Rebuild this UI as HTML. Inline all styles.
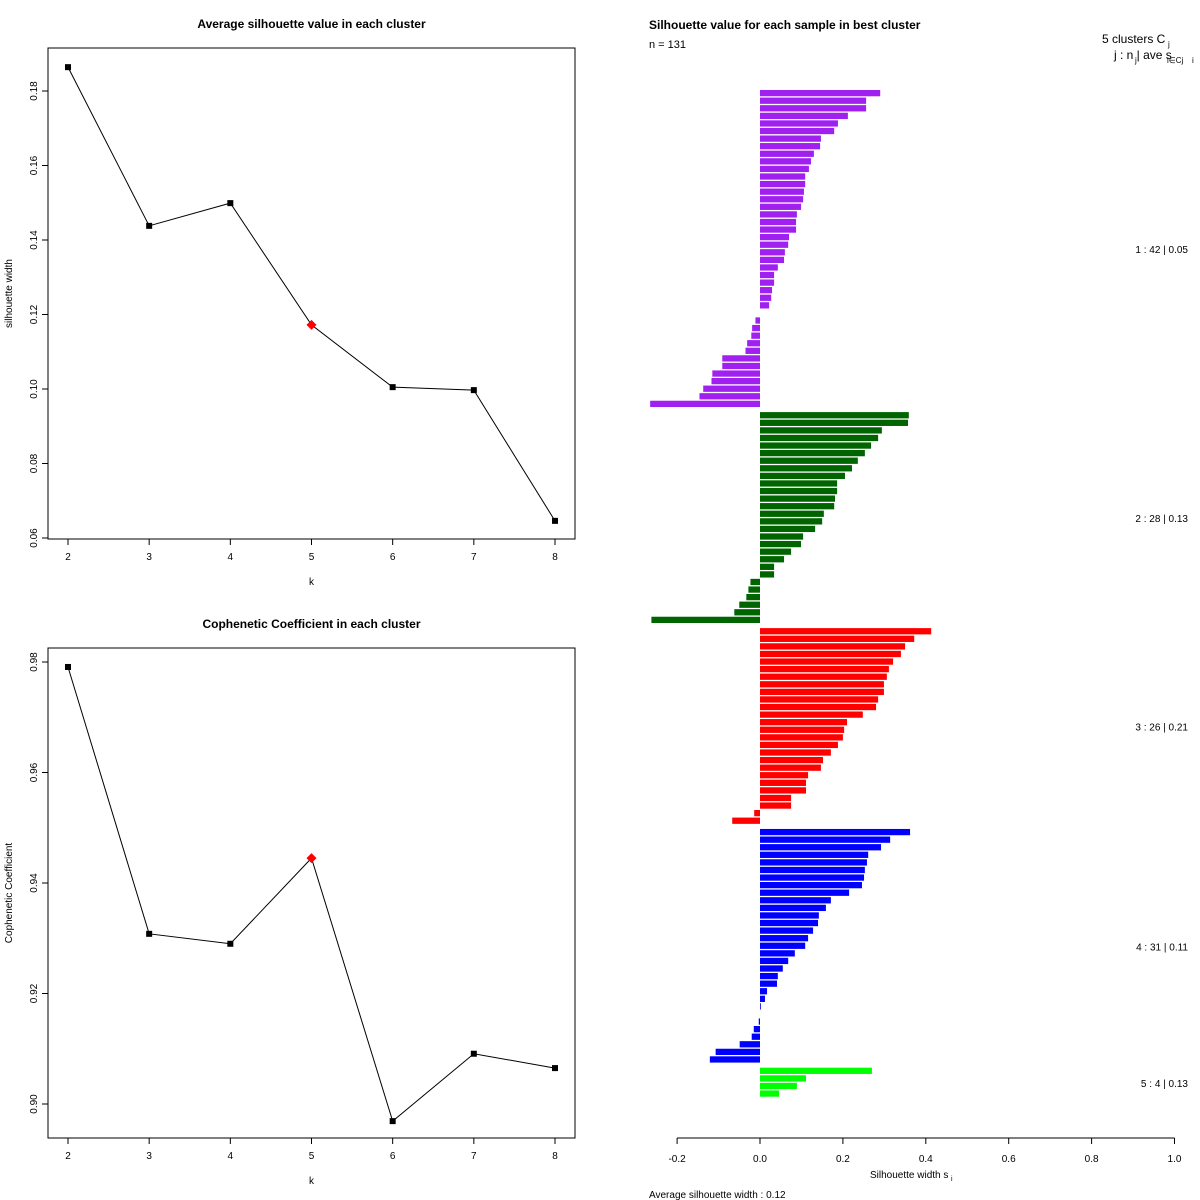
<!DOCTYPE html>
<html><head><meta charset="utf-8">
<style>
html,body{margin:0;padding:0;background:#fff;}
svg{display:block;font-family:"Liberation Sans",sans-serif;}
</style></head>
<body>
<svg id="chart" width="1200" height="1200" viewBox="0 0 1200 1200" xmlns="http://www.w3.org/2000/svg">
<rect width="1200" height="1200" fill="#fff"/>
<g id="p1"></g>
<g id="p2"></g>
<g id="p3"></g>
</svg>
<script>
const kValues = [2,3,4,5,6,7,8];
const silValues = [0.1864,0.1438,0.1499,0.1172,0.1005,0.0997,0.0646];
const silTicks = [0.06,0.08,0.10,0.12,0.14,0.16,0.18];
const copheValues = [0.9791,0.9308,0.9290,0.9445,0.8969,0.9091,0.9065];
const copheTicks = [0.90,0.92,0.94,0.96,0.98];
const bestK = 5;

const clusterNames = ["1","2","3","4","5"];
const clusterColors = ["#a020f0","#006400","#ff0000","#0000ff","#00ff00"];
const clusterAvg = ["0.05","0.13","0.21","0.11","0.13"];
const cluster1 = [.290,.256,.256,.212,.188,.179,.147,.145,.130,.123,.118,.109,.109,.106,.104,.099,.089,.087,.087,.070,.068,.060,.058,.043,.034,.034,.029,.027,.022,0,-.011,-.019,-.021,-.031,-.035,-.091,-.091,-.115,-.117,-.137,-.146,-.265];
const cluster2 = [.359,.357,.294,.285,.268,.253,.236,.222,.205,.186,.186,.181,.179,.154,.150,.133,.104,.099,.075,.058,.034,.034,-.023,-.028,-.033,-.050,-.062,-.262];
const cluster3 = [.413,.372,.350,.340,.321,.311,.306,.299,.299,.285,.280,.248,.210,.203,.200,.188,.171,.152,.147,.116,.111,.111,.075,.075,-.014,-.067];
const cluster4 = [.362,.314,.292,.261,.258,.253,.251,.246,.215,.171,.159,.142,.140,.128,.116,.109,.084,.068,.055,.043,.041,.017,.012,.002,0,-.003,-.015,-.020,-.049,-.107,-.121];
const cluster5 = [.270,.111,.089,.046];
const silXTicks = [-0.2,0.0,0.2,0.4,0.6,0.8,1.0];
const avgSilWidth = "0.12";

const NS="http://www.w3.org/2000/svg";
function mk(parent,tag,attrs,text){const e=document.createElementNS(NS,tag);for(const k in attrs)e.setAttribute(k,attrs[k]);if(text!==undefined)e.textContent=text;parent.appendChild(e);return e;}

function linePanel(g,box,vals,ticks,ymin,ymax,yfmt,title,ytitle,prefix){
  const xs=v=>68+(v-2)*(555-68)/6;
  const ys=v=>box.y1-(v-ymin)*(box.y1-box.y0)/(ymax-ymin);
  let e=mk(g,'rect',{x:box.x0,y:box.yb0,width:box.x1-box.x0,height:box.yb1-box.yb0,fill:'none',stroke:'#000','stroke-width':1});
  
  
  e=mk(g,'text',{x:(box.x0+box.x1)/2,y:box.yb0-20,'text-anchor':'middle','font-size':12,'font-weight':'bold'},title);
  
  
  kValues.forEach(k=>{
    mk(g,'line',{x1:xs(k),x2:xs(k),y1:box.yb1,y2:box.yb1+6,stroke:'#000'});
    e=mk(g,'text',{x:xs(k),y:box.yb1+21,'text-anchor':'middle','font-size':10},String(k));
    
    
  });
  e=mk(g,'text',{x:(box.x0+box.x1)/2,y:box.yb1+46,'text-anchor':'middle','font-size':10},'k');
  
  
  ticks.forEach(t=>{
    const y=ys(t);
    mk(g,'line',{x1:box.x0,x2:box.x0-6,y1:y,y2:y,stroke:'#000'});
    e=mk(g,'text',{x:0,y:0,'text-anchor':'middle','font-size':10,transform:`translate(37,${y}) rotate(-90)`},t.toFixed(yfmt));
    
    
  });
  const cy=(box.yb0+box.yb1)/2;
  e=mk(g,'text',{x:0,y:0,'text-anchor':'middle','font-size':10,transform:`translate(12,${cy}) rotate(-90)`},ytitle);
  
  
  const pts=kValues.map((k,i)=>xs(k)+','+ys(vals[i])).join(' ');
  e=mk(g,'polyline',{points:pts,fill:'none',stroke:'#000','stroke-width':1});
  
  
  kValues.forEach((k,i)=>{
    const x=xs(k),y=ys(vals[i]);
    if(k===bestK){
      e=mk(g,'polygon',{points:`${x},${y-5} ${x+5},${y} ${x},${y+5} ${x-5},${y}`,fill:'#ff0000'});
      
    } else {
      e=mk(g,'rect',{x:x-3,y:y-3,width:6,height:6,fill:'#000'});
      
    }
    
  });
}

(function(){
  linePanel(document.getElementById('p1'),{x0:48,x1:575,yb0:48,yb1:539,y0:91,y1:538},silValues,silTicks,0.06,0.18,2,'Average silhouette value in each cluster','silhouette width','silhouette');
  linePanel(document.getElementById('p2'),{x0:48,x1:575,yb0:648,yb1:1138,y0:662,y1:1104},copheValues,copheTicks,0.90,0.98,2,'Cophenetic Coefficient in each cluster','Cophenetic Coefficient','cophenetic');

  const g3=document.getElementById('p3');
  const clusters=[cluster1,cluster2,cluster3,cluster4,cluster5];
  const xs=v=>760+v*414.5;
  const total=clusters.reduce((a,c)=>a+c.length,0)+0.5*(clusters.length-1);
  const top=90,bottom=1098,unit=(bottom-top)/total;
  let pos=0,e;
  clusters.forEach((c,ci)=>{
    const startPos=pos;
    c.forEach((v,i)=>{
      const y=top+pos*unit;
      const x0=Math.min(xs(0),xs(v)),w=Math.abs(xs(v)-xs(0));
      e=mk(g3,'rect',{x:x0,y:y,width:w,height:Math.max(unit-1.3,1),fill:clusterColors[ci]});
      
      
      pos+=1;
    });
    const mid=top+(startPos+c.length/2)*unit;
    e=mk(g3,'text',{x:1188,y:mid+4,'text-anchor':'end','font-size':10,'xml:space':'preserve'},clusterNames[ci]+' :   '+c.length+'  |  '+clusterAvg[ci]);
    
    
    pos+=0.5;
  });
  mk(g3,'line',{x1:xs(-0.2),x2:xs(1.0),y1:1138,y2:1138,stroke:'#000'});
  silXTicks.forEach(t=>{
    mk(g3,'line',{x1:xs(t),x2:xs(t),y1:1138,y2:1144,stroke:'#000'});
    e=mk(g3,'text',{x:xs(t),y:1162,'text-anchor':'middle','font-size':10},t.toFixed(1));
    
    
  });
  e=mk(g3,'text',{x:870,y:1178,'font-size':10},'Silhouette width s');
  
  
  mk(g3,'text',{x:951,y:1181,'font-size':7},'i');
  e=mk(g3,'text',{x:649,y:1198,'font-size':10},'Average silhouette width :  '+avgSilWidth);
  
  
  e=mk(g3,'text',{x:649,y:29,'font-size':12,'font-weight':'bold'},'Silhouette value for each sample in best cluster');
  
  
  e=mk(g3,'text',{x:649,y:48,'font-size':11},'n = 131');
  
  
  e=mk(g3,'text',{x:1102,y:43,'font-size':12},'5  clusters  C');
  
  
  mk(g3,'text',{x:1168,y:47,'font-size':8},'j');
  e=mk(g3,'text',{x:1114,y:59,'font-size':12,'xml:space':'preserve'},'j :  n  | ave      s');
  
  
  mk(g3,'text',{x:1135,y:63,'font-size':8},'j');
  mk(g3,'text',{x:1167,y:63,'font-size':8},'i∈Cj');
  mk(g3,'text',{x:1192,y:63,'font-size':8},'i');
})();
</script>
</body></html>
